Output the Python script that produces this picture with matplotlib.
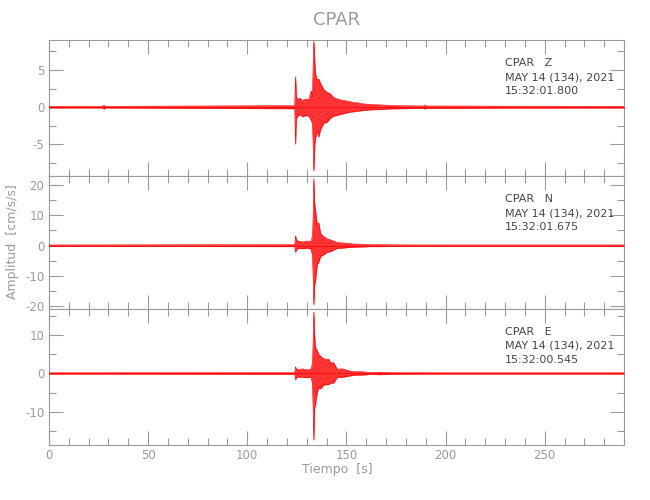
import matplotlib
matplotlib.use("Agg")
import matplotlib.pyplot as plt
from matplotlib.ticker import MultipleLocator

plt.rcParams["axes.unicode_minus"] = False

STATION = "CPAR"
COMPONENTS = ["Z", "N", "E"]
START_TIMES = ["15:32:01.800", "15:32:01.675", "15:32:00.545"]
DATE_LABEL = "MAY 14 (134), 2021"

T_Z = [0, 27, 27.6, 28.5, 123.9, 124.3, 124.7, 125.5, 126.5, 128, 129.5, 131, 132.2, 132.8,
       133.2, 133.5, 134.0, 134.4, 135.2, 136.0, 136.9, 138.5, 140.2, 141.9, 143.5, 145.3,
       148, 151, 153.7, 155.4, 158, 162.1, 167, 172.2, 180, 189, 189.5, 190, 200, 228, 290]
UP_Z = [0.1, 0.1, 0.25, 0.1, 0.2, 4.1, 1.4, 1.0, 1.2, 0.9, 1.1, 1.0, 2.2, 1.6,
        5.5, 8.9, 6.0, 4.5, 3.6, 3.8, 3.2, 2.4, 2.0, 1.8, 1.3, 1.1,
        0.9, 0.8, 0.6, 0.6, 0.45, 0.35, 0.3, 0.22, 0.18, 0.15, 0.3, 0.15, 0.15, 0.12, 0.1]
LO_Z = [-0.1, -0.1, -0.25, -0.1, -0.2, -5.0, -1.5, -1.2, -1.0, -1.3, -1.1, -1.2, -1.8, -2.2,
        -5.0, -8.6, -5.0, -4.2, -3.2, -4.0, -3.0, -2.2, -2.0, -1.5, -1.2, -1.1,
        -0.9, -0.7, -0.6, -0.55, -0.45, -0.35, -0.3, -0.22, -0.18, -0.15, -0.25, -0.15, -0.15, -0.12, -0.1]

T_N = [0, 123.9, 124.3, 124.8, 126, 128, 130, 132, 132.8, 133.2, 133.5, 133.9, 134.3,
       135.2, 136.0, 136.9, 138.5, 140.2, 141.9, 143.5, 145.3, 148, 151, 153.7, 158,
       162.1, 167, 172.2, 180, 200, 290]
UP_N = [0.2, 0.3, 3.2, 1.8, 1.4, 1.2, 1.5, 1.3, 3.0, 9.0, 22.0, 14.0, 12.0,
        6.8, 7.5, 4.0, 3.0, 2.2, 1.9, 1.5, 1.0, 0.9, 0.7, 0.5, 0.45,
        0.3, 0.3, 0.25, 0.22, 0.2, 0.2]
LO_N = [-0.2, -0.3, -2.2, -1.2, -0.9, -1.0, -0.8, -1.1, -3.0, -10.0, -19.5, -13.0, -12.0,
        -6.3, -5.5, -3.6, -3.0, -2.2, -2.0, -1.4, -0.9, -0.8, -0.6, -0.5, -0.4,
        -0.3, -0.3, -0.25, -0.22, -0.2, -0.2]

T_E = [0, 123.9, 124.3, 124.8, 126, 128, 130, 132, 132.8, 133.2, 133.5, 133.9, 134.3,
       135.2, 136.0, 136.9, 138.5, 140.2, 141.1, 141.9, 143.5, 145.3, 148, 151, 153.7,
       158, 162.1, 167, 172.2, 180, 200, 290]
UP_E = [0.15, 0.2, 1.7, 1.1, 1.0, 1.2, 0.9, 1.1, 2.5, 8.0, 16.0, 10.0, 6.8,
        6.0, 5.0, 4.5, 3.8, 3.7, 3.7, 2.8, 2.8, 1.1, 1.2, 0.7, 0.45,
        0.45, 0.2, 0.3, 0.2, 0.18, 0.15, 0.15]
LO_E = [-0.15, -0.2, -1.6, -1.0, -0.9, -1.0, -1.1, -0.9, -2.5, -9.0, -17.4, -9.0, -8.2,
        -5.0, -3.8, -4.0, -3.0, -2.9, -2.9, -2.5, -2.5, -1.0, -1.0, -0.7, -0.45,
        -0.4, -0.2, -0.3, -0.2, -0.18, -0.15, -0.15]

TRACES = [(T_Z, UP_Z, LO_Z), (T_N, UP_N, LO_N), (T_E, UP_E, LO_E)]

XLIM = (0, 290)
YLIMS = [(-9.3, 9.05), (-21, 23), (-18.7, 16.8)]
Y_MAJOR = [5, 10, 10]
Y_MINOR = [2.5, 5, 5]

# ─── Estilo ───────────────────────────────────────────────────────────────────
GRAY = "#9a9a9a"
TEXT_DARK = "#454545"
RED = "#ff0000"

W, H = 650, 500
fig = plt.figure(figsize=(6.5, 5), dpi=100)

# bordes de paneles en pixeles
left_px, right_px = 49, 624
edges_px = [40, 176, 309, 445]

axes = []
for i in range(3):
    top, bot = edges_px[i], edges_px[i + 1]
    ax = fig.add_axes([left_px / W, 1 - bot / H, (right_px - left_px) / W, (bot - top) / H])
    t, up, lo = TRACES[i]
    ax.axhline(0, color=RED, linewidth=0.5, zorder=2)
    ax.fill_between(t, lo, up, color=RED, linewidth=0.3, alpha=0.8, zorder=3)
    ax.plot(t, up, color=RED, linewidth=0.4, zorder=3)
    ax.plot(t, lo, color=RED, linewidth=0.4, zorder=3)

    ax.set_xlim(*XLIM)
    ax.set_ylim(*YLIMS[i])
    ax.xaxis.set_major_locator(MultipleLocator(50))
    ax.xaxis.set_minor_locator(MultipleLocator(10))
    ax.yaxis.set_major_locator(MultipleLocator(Y_MAJOR[i]))
    ax.yaxis.set_minor_locator(MultipleLocator(Y_MINOR[i]))
    ax.tick_params(which="both", direction="in", top=True, right=True,
                   color=GRAY, labelcolor=GRAY, labelsize=8.5, width=0.8)
    ax.tick_params(which="major", length=10)
    ax.tick_params(which="minor", length=5)
    ax.tick_params(axis="x", pad=3)
    for sp in ax.spines.values():
        sp.set_color(GRAY)
        sp.set_linewidth(0.8)
    if i < 2:
        ax.tick_params(labelbottom=False)

    # etiqueta de la estacion
    y0 = top + 18
    ax.text(505 / W, 1 - y0 / H, f"{STATION}   {COMPONENTS[i]}\n{DATE_LABEL}\n{START_TIMES[i]}",
            transform=fig.transFigure, ha="left", va="top", fontsize=8,
            color=TEXT_DARK, linespacing=1.5)
    axes.append(ax)

fig.text(337 / W, 1 - 20 / H, STATION, ha="center", va="center", fontsize=13, color=GRAY)
fig.text(337 / W, 1 - 469 / H, "Tiempo  [s]", ha="center", va="center", fontsize=9, color=GRAY)
fig.text(13 / W, 1 - 242 / H, "Amplitud  [cm/s/s]", ha="center", va="center", rotation=90,
         fontsize=9, color=GRAY)

plt.savefig("out.png", dpi=100)
plt.close()
